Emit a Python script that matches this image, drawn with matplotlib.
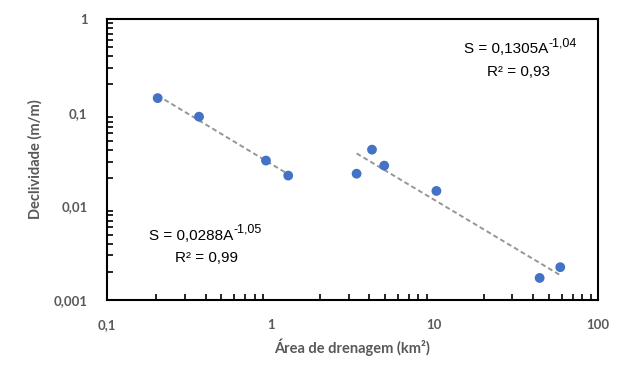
import numpy as np
import matplotlib
matplotlib.use("Agg")
import matplotlib.pyplot as plt
from matplotlib.ticker import LogLocator, FixedLocator, NullFormatter

# Data
area_g1 = [0.204, 0.365, 0.936, 1.28]
slope_g1 = [0.143, 0.0906, 0.0308, 0.0213]
area_g2 = [3.35, 4.16, 4.94, 10.3, 44.0, 58.8]
slope_g2 = [0.0223, 0.0403, 0.0272, 0.0146, 0.00172, 0.00224]

eq1_base, eq1_sup = "S = 0,0288A", "-1,05"
r1 = "R² = 0,99"
eq2_base, eq2_sup = "S = 0,1305A", "-1,04"
r2 = "R² = 0,93"

xticks = [0.1, 1, 10, 100]
xticklabels = ["0,1", "1", "10", "100"]
yticks = [0.001, 0.01, 0.1, 1]
yticklabels = ["0,001", "0,01", "0,1", "1"]

fig = plt.figure(figsize=(6.29, 3.78), dpi=100)
ax = fig.add_axes([107/629, 1-300/378, (598-107)/629, (300-19)/378])

blue = "#4472C4"
gray_line = "#969696"

for xs, ys in [(area_g1, slope_g1), (area_g2, slope_g2)]:
    lx, ly = np.log10(xs), np.log10(ys)
    b, a = np.polyfit(lx, ly, 1)
    xx = np.linspace(min(lx), max(lx), 50)
    ax.plot(10**xx, 10**(a + b*xx), color=gray_line, lw=1.4, ls=(0, (2.5, 1.6)), zorder=2)

ax.scatter(area_g1 + area_g2, slope_g1 + slope_g2, s=50, color=blue, edgecolors="none", zorder=3)

ax.set_xscale("log")
ax.set_yscale("log")
ax.set_xlim(0.1, 100)
ax.set_ylim(0.001, 1)

for sp in ax.spines.values():
    sp.set_color("black")
    sp.set_linewidth(1.5)

lab_color = "#595959"
ax.xaxis.set_major_locator(FixedLocator(xticks))
ax.set_xticklabels(xticklabels)
ax.yaxis.set_major_locator(FixedLocator(yticks))
ax.set_yticklabels(yticklabels)
ax.xaxis.set_minor_locator(LogLocator(base=10, subs=np.arange(2, 10)))
ax.yaxis.set_minor_locator(LogLocator(base=10, subs=np.arange(2, 10)))
ax.xaxis.set_minor_formatter(NullFormatter())
ax.yaxis.set_minor_formatter(NullFormatter())

ax.tick_params(which="major", length=0, pad=14, labelsize=9.5, labelcolor=lab_color)
ax.tick_params(which="minor", direction="in", length=4, width=1.2, color="black",
               top=False, right=False)
for lab in ax.get_xticklabels() + ax.get_yticklabels():
    lab.set_fontfamily("Lato")
    lab.set_fontweight("bold")

ax.set_xlabel("Área de drenagem (km²)", fontfamily="Lato", fontweight="bold",
              fontsize=10.5, color=lab_color, labelpad=5)
ax.set_ylabel("Declividade (m/m)", fontfamily="Lato", fontweight="bold",
              fontsize=10.5, color=lab_color, labelpad=8)

tf = dict(fontfamily="Liberation Sans", color="black")
W, H = 629, 378

def equation(x_left, y_center, base, sup):
    t = fig.text(x_left/W, 1-y_center/H, base, ha="left", va="center", fontsize=11, **tf)
    fig.canvas.draw()
    bb = t.get_window_extent()
    fig.text((bb.x1 + 0.5)/W, (bb.y1 - 1)/fig.bbox.height, sup, ha="left", va="center",
             fontsize=9, **tf)

equation(149, 235.5, eq1_base, eq1_sup)
fig.text(175/W, 1-258.5/H, r1, ha="left", va="center", fontsize=11, **tf)
equation(464, 49, eq2_base, eq2_sup)
fig.text(487/W, 1-72.5/H, r2, ha="left", va="center", fontsize=11, **tf)

fig.savefig("out.png", dpi=100)
